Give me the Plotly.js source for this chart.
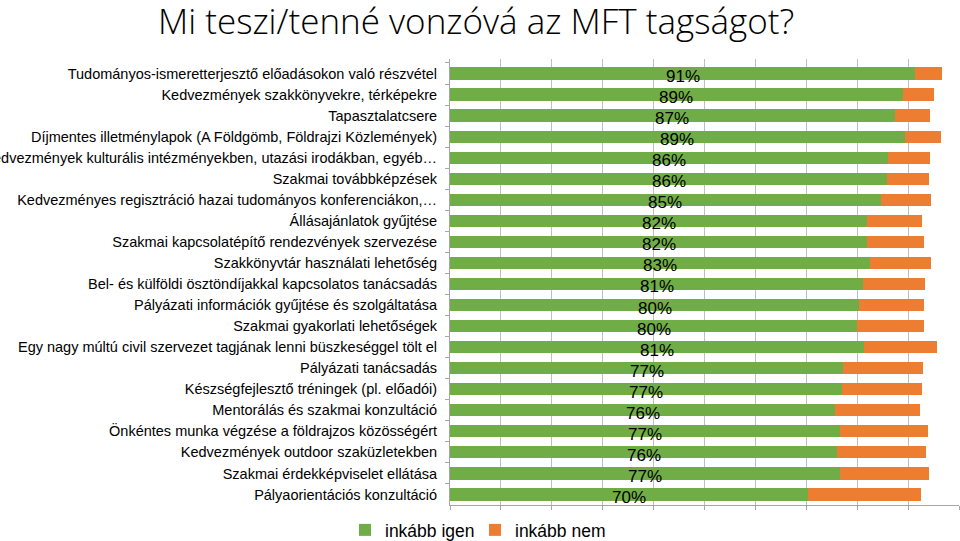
<!DOCTYPE html>
<html>
<head>
<meta charset="utf-8">
<script src="https://cdn.plot.ly/plotly-3.0.1.min.js"></script>
<style>html,body{margin:0;padding:0;background:#fff;}#chart{width:960px;height:541px;}</style>
</head>
<body>
<div id="chart"></div>
<script>
const categories = [
  "Tudományos-ismeretterjesztő előadásokon való részvétel",
  "Kedvezmények szakkönyvekre, térképekre",
  "Tapasztalatcsere",
  "Díjmentes illetménylapok (A Földgömb, Földrajzi Közlemények)",
  "Kedvezmények kulturális intézményekben, utazási irodákban, egyéb…",
  "Szakmai továbbképzések",
  "Kedvezményes regisztráció hazai tudományos konferenciákon,…",
  "Állásajánlatok gyűjtése",
  "Szakmai kapcsolatépítő rendezvények szervezése",
  "Szakkönyvtár használati lehetőség",
  "Bel- és külföldi ösztöndíjakkal kapcsolatos tanácsadás",
  "Pályázati információk gyűjtése és szolgáltatása",
  "Szakmai gyakorlati lehetőségek",
  "Egy nagy múltú civil szervezet tagjának lenni büszkeséggel tölt el",
  "Pályázati tanácsadás",
  "Készségfejlesztő tréningek (pl. előadói)",
  "Mentorálás és szakmai konzultáció",
  "Önkéntes munka végzése a földrajzos közösségért",
  "Kedvezmények outdoor szaküzletekben",
  "Szakmai érdekképviselet ellátása",
  "Pályaorientációs konzultáció"
];
const inkabbIgen = [91.4, 88.9, 87.4, 89.3, 86.1, 85.9, 84.6, 82.0, 82.0, 82.6, 81.2, 80.4, 80.0, 81.4, 77.3, 77.1, 75.7, 76.6, 76.1, 76.6, 70.4];
const inkabbNem  = [5.2, 6.2, 6.9, 7.2, 8.2, 8.2, 9.8, 10.7, 11.2, 11.8, 12.1, 12.7, 13.2, 14.2, 15.6, 15.6, 16.6, 17.3, 17.4, 17.5, 22.1];
const seriesNames = ["inkább igen", "inkább nem"];

const traces = [
  {type:'bar', orientation:'h', name:seriesNames[0], y:categories, x:inkabbIgen,
   marker:{color:'#70ad47'}, hoverinfo:'none', legend:'legend'},
  {type:'bar', orientation:'h', name:seriesNames[1], y:categories, x:inkabbNem,
   marker:{color:'#ed7d31'}, hoverinfo:'none', legend:'legend2'}
];

const annotations = categories.map((c,i)=>({
  x: inkabbIgen[i]/2, y: c, xref:'x', yref:'y',
  text: Math.round(inkabbIgen[i]) + '%', showarrow:false, yshift:-3,
  font:{family:'Liberation Sans, Arial, sans-serif', size:17, color:'#000'}
}));

const legendFont = {family:'Liberation Sans, Arial, sans-serif', size:17.5, color:'#000'};

const layout = {
  width:960, height:541,
  margin:{l:450, r:1, t:59, b:36, pad:0},
  paper_bgcolor:'#fff', plot_bgcolor:'#fff',
  barmode:'stack', bargap:0.42,
  title:{text:'Mi teszi/tenné vonzóvá az MFT tagságot?', xref:'container', yref:'container',
    x:158/960, xanchor:'left', y:1-22/541, yanchor:'middle',
    font:{family:'Open Sans, sans-serif', size:35, color:'#000', weight:300}},
  xaxis:{range:[0,100], dtick:10, showticklabels:false, showgrid:true, gridcolor:'#bfbfbf', gridwidth:1,
    zeroline:false, showline:true, linecolor:'#a6a6a6', ticks:'outside', ticklen:4, tickcolor:'#a6a6a6', fixedrange:true},
  yaxis:{type:'category', autorange:'reversed', showgrid:false, showline:true, linecolor:'#a6a6a6',
    ticks:'outside', tickson:'boundaries', ticklen:4, tickcolor:'#a6a6a6', ticklabelstandoff:9,
    tickfont:{family:'Liberation Sans, Arial, sans-serif', size:14.5, color:'#000'}, automargin:false, fixedrange:true},
  showlegend:true,
  legend:{orientation:'h', xref:'container', yref:'container', x:345/960, xanchor:'left', y:11/541, yanchor:'middle',
    font:legendFont, itemwidth:30, bgcolor:'rgba(0,0,0,0)'},
  legend2:{orientation:'h', xref:'container', yref:'container', x:475/960, xanchor:'left', y:11/541, yanchor:'middle',
    font:legendFont, itemwidth:30, bgcolor:'rgba(0,0,0,0)'},
  annotations: annotations
};

Plotly.newPlot('chart', traces, layout, {staticPlot:true, displayModeBar:false});
</script>
</body>
</html>
